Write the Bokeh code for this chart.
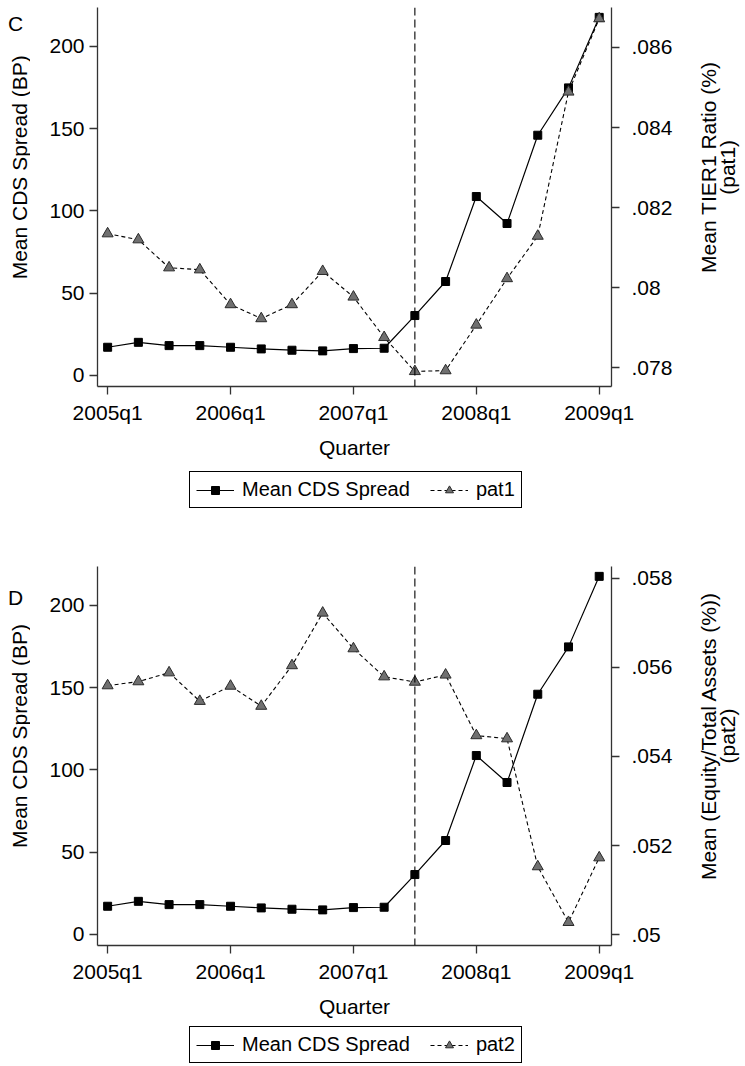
from bokeh.plotting import figure
from bokeh.models import (Range1d, LinearAxis, FixedTicker, Legend, LegendItem,
                          Span, Label)
from bokeh.layouts import column, row
from bokeh.embed import file_html
from bokeh.resources import INLINE

# ---------------- data ----------------
quarters = list(range(17))  # 2005q1 ... 2009q1
quarter_ticks = [0, 4, 8, 12, 16]
quarter_labels = ["2005q1", "2006q1", "2007q1", "2008q1", "2009q1"]
event_quarter = 10  # 2007q3

cds = [17.0, 20.0, 18.0, 18.0, 17.0, 16.0, 15.2, 14.8, 16.2, 16.4,
       36.3, 57.0, 108.7, 92.3, 146.0, 174.8, 217.7]
pat1 = [0.08135, 0.08120, 0.08050, 0.08045, 0.07958, 0.07923, 0.07958, 0.08041,
        0.07977, 0.07876, 0.07791, 0.07793, 0.07907, 0.08023, 0.08129, 0.08489,
        0.08672]
pat2 = [0.05559, 0.05568, 0.05588, 0.05524, 0.05558, 0.05513, 0.05604, 0.05722,
        0.05642, 0.05579, 0.05567, 0.05583, 0.05447, 0.05440, 0.05153, 0.05028,
        0.05173]

cds_ticks = [0, 50, 100, 150, 200]
pat1_ticks = [0.078, 0.080, 0.082, 0.084, 0.086]
pat1_labels = [".078", ".08", ".082", ".084", ".086"]
pat2_ticks = [0.050, 0.052, 0.054, 0.056, 0.058]
pat2_labels = [".05", ".052", ".054", ".056", ".058"]

FONT = "Liberation Sans"
FS = "21px"
AXC = "#333333"
TRI_FILL = "#707070"
TRI_LINE = "#2a2a2a"

X_LO, X_HI = -0.33, 16.40
Y_LO, Y_HI = -6.87, 223.7
FRAME_H = 379
LEFT_W = 30      # strip holding panel letter and left title
RIGHT_W = 55     # strip holding right title
MAIN_W = 745 - LEFT_W - RIGHT_W


def style_axis(ax):
    ax.axis_line_color = AXC
    ax.axis_line_width = 1.3
    ax.major_tick_line_color = AXC
    ax.major_tick_line_width = 1.3
    ax.major_tick_in = 0
    ax.major_tick_out = 8
    ax.minor_tick_line_color = None
    ax.major_label_text_font = FONT
    ax.major_label_text_font_size = FS
    ax.major_label_text_color = "black"
    ax.axis_label_text_font = FONT
    ax.axis_label_text_font_size = FS
    ax.axis_label_text_font_style = "normal"
    ax.axis_label_text_color = "black"


def blank_fig(w, h):
    f = figure(width=w, height=h, output_backend="svg", toolbar_location=None,
               x_range=Range1d(0, w), y_range=Range1d(0, h),
               x_axis_type=None, y_axis_type=None,
               min_border_left=0, min_border_right=0,
               min_border_top=0, min_border_bottom=0)
    f.outline_line_color = None
    f.grid.visible = False
    return f


def text_label(x, y, text, angle=0.0):
    return Label(x=x, y=y, text=text, angle=angle, text_font=FONT,
                 text_font_size=FS, text_color="black", text_align="center",
                 text_baseline="middle")


def make_panel(letter, pat, pat_name, right_title1, right_title2, rlo, rhi,
               rticks, rlabels, top_border, bottom_border, legend_h, legend_bottom):
    main_h = top_border + FRAME_H + bottom_border
    p = figure(width=MAIN_W, height=main_h,
               output_backend="svg", toolbar_location=None,
               x_range=Range1d(X_LO, X_HI), y_range=Range1d(Y_LO, Y_HI),
               min_border_left=97 - LEFT_W,
               min_border_right=MAIN_W - (97 - LEFT_W) - 514,
               min_border_top=top_border, min_border_bottom=bottom_border)
    p.outline_line_color = None
    p.grid.visible = False
    p.extra_y_ranges = {"right": Range1d(rlo, rhi)}

    # x axis
    xa = p.xaxis[0]
    xa.ticker = FixedTicker(ticks=quarter_ticks)
    xa.major_label_overrides = {t: l for t, l in zip(quarter_ticks, quarter_labels)}
    xa.axis_label = "Quarter"
    style_axis(xa)
    xa.major_label_standoff = 6
    xa.axis_label_standoff = 9

    # left axis (title drawn in the left strip)
    ya = p.yaxis[0]
    ya.ticker = FixedTicker(ticks=cds_ticks)
    style_axis(ya)
    ya.major_label_standoff = 5

    # right axis (title drawn in the right strip)
    ra = LinearAxis(y_range_name="right")
    ra.ticker = FixedTicker(ticks=rticks)
    ra.major_label_overrides = {t: l for t, l in zip(rticks, rlabels)}
    style_axis(ra)
    ra.major_label_standoff = 12
    p.add_layout(ra, "right")

    # event line
    p.add_layout(Span(location=event_quarter, dimension="height",
                      line_color="black", line_width=1.1, line_dash="8 4"))

    # series
    p.line(quarters, cds, line_color="black", line_width=1.2)
    p.scatter(quarters, cds, marker="square", size=8,
              fill_color="black", line_color="black")
    p.line(quarters, pat, line_color="black", line_width=1.1,
           line_dash="4 3", y_range_name="right")
    p.scatter(quarters, pat, marker="triangle", size=11,
              fill_color=TRI_FILL, line_color=TRI_LINE, line_width=1,
              y_range_name="right")

    frame_mid = main_h - (top_border + FRAME_H / 2)

    # left strip: panel letter + left axis title
    lf = blank_fig(LEFT_W, main_h)
    lf.add_layout(text_label(15, main_h - (top_border + 13), letter))
    lf.add_layout(text_label(19, frame_mid, "Mean CDS Spread (BP)", 1.5707963))

    # right strip: two-line right axis title
    rf = blank_fig(RIGHT_W, main_h)
    rf.add_layout(text_label(18, frame_mid, right_title1, 1.5707963))
    rf.add_layout(text_label(37, frame_mid, right_title2, 1.5707963))

    # legend strip (key renderers sit outside the visible range)
    gf = blank_fig(745, legend_h)
    kx = [-50, -40]
    ky = [-50, -50]
    g1 = gf.line(kx, ky, line_color="black", line_width=1.2)
    g2 = gf.scatter(kx, ky, marker="square", size=6,
                    fill_color="black", line_color="black")
    g3 = gf.line(kx, ky, line_color="black", line_width=1.1, line_dash="4 3")
    g4 = gf.scatter(kx, ky, marker="triangle", size=8,
                    fill_color=TRI_FILL, line_color=TRI_LINE, line_width=1)
    legend = Legend(items=[LegendItem(label="Mean CDS Spread", renderers=[g1, g2]),
                           LegendItem(label=pat_name, renderers=[g3, g4])],
                    orientation="horizontal",
                    location=(189, legend_bottom))
    legend.label_text_font = FONT
    legend.label_text_font_size = "20px"
    legend.label_text_color = "black"
    legend.label_height = 20
    legend.glyph_height = 20
    legend.border_line_color = "black"
    legend.border_line_alpha = 1.0
    legend.border_line_width = 1
    legend.background_fill_alpha = 1.0
    legend.padding = 6
    legend.spacing = 20
    legend.margin = 0
    legend.glyph_width = 38
    legend.label_standoff = 8
    gf.add_layout(legend)

    return column(row(lf, p, rf, spacing=0), gf, spacing=0)


panelC = make_panel("C", pat1, "pat1", "Mean TIER1 Ratio (%)", "(pat1)",
                    0.077533, 0.086998, pat1_ticks, pat1_labels,
                    top_border=7, bottom_border=80, legend_h=74, legend_bottom=32)
panelD = make_panel("D", pat2, "pat2", "Mean (Equity/Total Assets (%))", "(pat2)",
                    0.04976, 0.058262, pat2_ticks, pat2_labels,
                    top_border=26, bottom_border=77, legend_h=44, legend_bottom=3)

layout = column(panelC, panelD, spacing=0)
open("out.html", "w").write(file_html(layout, INLINE))
